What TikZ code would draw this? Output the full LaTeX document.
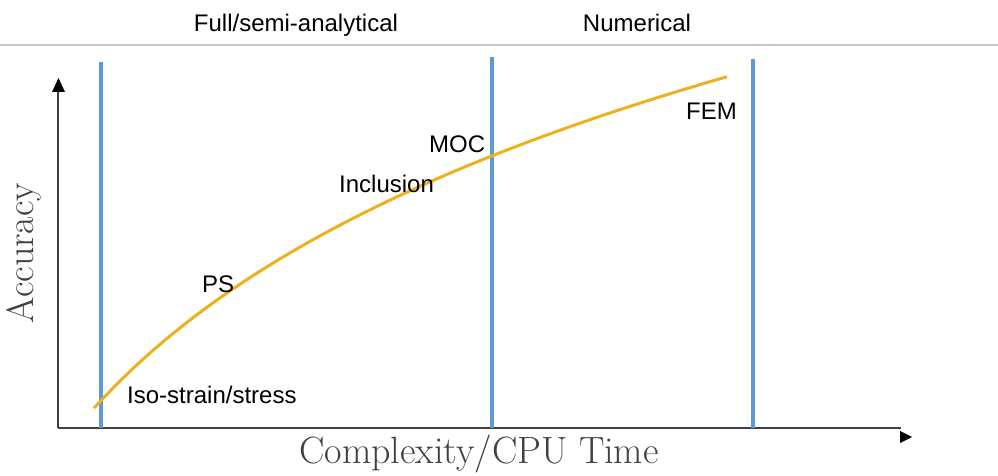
\documentclass[tikz,border=0pt]{standalone}
\usepackage{fontspec}
\newfontfamily\arialf{Liberation Sans}
\definecolor{bluel}{HTML}{5B9BD5}
\definecolor{orangec}{HTML}{EDB120}
\definecolor{axisc}{HTML}{404040}
\definecolor{topline}{HTML}{C8C8C8}
\begin{document}
\begin{tikzpicture}[x=1pt,y=-1pt,
  lbl/.style={inner sep=0pt, anchor=base west, font=\arialf\fontsize{24}{28}\selectfont},
  toplbl/.style={inner sep=0pt, anchor=base, font=\arialf\fontsize{24}{28}\selectfont},
  axlbl/.style={inner sep=0pt, font=\fontsize{38}{42}\selectfont, text=axisc},
  vline/.style={line width=4pt, draw=bluel},
  axisline/.style={line width=1.5pt, draw=axisc},
  curve/.style={line width=3pt, draw=orangec}]
\useasboundingbox (0,0) rectangle (998,476);
% top separator
\coordinate (tl) at (0,45);
\coordinate (tr) at (998,45);
\draw[topline, line width=2pt] (tl) -- (tr);
\node[toplbl] (full) at (296,32) {Full/semi-analytical};
\node[toplbl] (num) at (637,32) {Numerical};
% axes
\coordinate (o) at (58,428);
\coordinate (ye) at (58,90);
\coordinate (xe) at (901,428);
\draw[axisline] (o) -- (ye);
\draw[axisline] (o) -- (xe);
\coordinate (ya1) at (52,92);
\coordinate (ya2) at (65,92);
\coordinate (yat) at (58.5,78);
\fill[black] (ya1) -- (yat) -- (ya2) -- cycle;
\coordinate (xa1) at (900,431);
\coordinate (xa2) at (900,443);
\coordinate (xat) at (912,437);
\fill[black] (xa1) -- (xat) -- (xa2) -- cycle;
% vertical blue lines
\coordinate (b1t) at (101,62);  \coordinate (b1b) at (101,428);
\coordinate (b2t) at (492,57);  \coordinate (b2b) at (492,428);
\coordinate (b3t) at (753,59);  \coordinate (b3b) at (753,428);
\draw[vline] (b1t) -- (b1b);
\draw[vline] (b2t) -- (b2b);
\draw[vline] (b3t) -- (b3b);
% curve
\draw[curve] plot[domain=94:727, samples=120, smooth] (\x, {1744.8-247*ln(\x+130)});
% labels
\node[lbl] (iso) at (127,403) {Iso-strain/stress};
\node[lbl] (ps) at (202,292) {PS};
\node[lbl] (inc) at (339,192) {Inclusion};
\node[lbl] (moc) at (429,152) {MOC};
\node[lbl] (fem) at (686,120) {FEM};
% axis labels
\node[axlbl, anchor=base] (xl) at (479,463) {Complexity/CPU Time};
\node[axlbl, rotate=90] (yl) at (24,253) {Accuracy};
\end{tikzpicture}
\end{document}
